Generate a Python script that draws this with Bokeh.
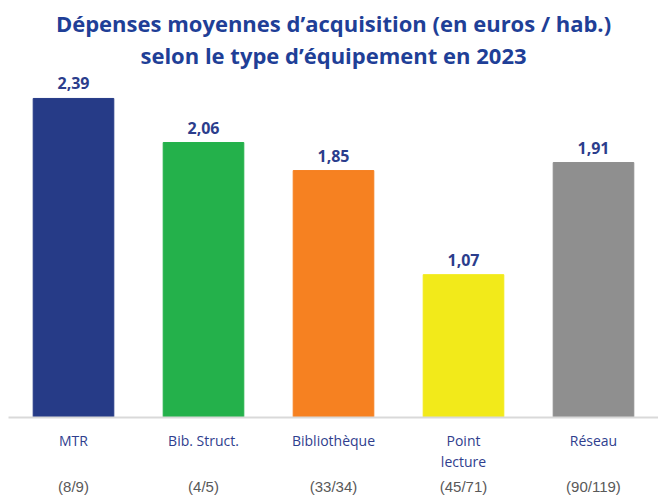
from bokeh.plotting import figure
from bokeh.models import ColumnDataSource, FactorRange, Range1d, CategoricalAxis, Title
from bokeh.core.properties import value
from bokeh.embed import file_html
from bokeh.resources import INLINE

categories = ["MTR", "Bib. Struct.", "Bibliothèque", "Point\nlecture", "Réseau"]
values = [2.39, 2.06, 1.85, 1.07, 1.91]
counts = ["(8/9)", "(4/5)", "(33/34)", "(45/71)", "(90/119)"]
colors = ["#263b87", "#24b14b", "#f68121", "#f2ea1a", "#8f8f8f"]
title_lines = ["Dépenses moyennes d’acquisition (en euros / hab.)",
               "selon le type d’équipement en 2023"]

labels = [f"{v:.2f}".replace(".", ",") for v in values]
src = ColumnDataSource(dict(cat=categories, val=values, lab=labels, col=colors))

p = figure(x_range=FactorRange(*categories, range_padding=0), y_range=Range1d(0, 2.607),
           frame_width=650, frame_height=348, output_backend="svg", toolbar_location=None,
           min_border_left=8, min_border_right=0, min_border_top=0, min_border_bottom=0)
p.outline_line_color = None
p.xgrid.visible = False
p.ygrid.visible = False
p.yaxis.visible = False
p.extra_x_ranges = {"counts": FactorRange(*counts, range_padding=0)}

p.vbar(x="cat", top="val", width=0.62, color="col", source=src)
p.text(x="cat", y="val", text="lab", source=src, text_align="center", text_baseline="bottom",
       y_offset=-9, text_font_size="16px", text_font_style="bold", text_color="#2b3d8c",
       text_font=value("Open Sans"))

ax = p.xaxis[0]
ax.axis_line_color = "#d9d9d9"
ax.axis_line_width = 2
ax.major_tick_line_color = None
ax.minor_tick_line_color = None
ax.major_label_standoff = 7
ax.major_label_text_font = "Open Sans"
ax.major_label_text_font_size = "14px"
ax.major_label_text_color = "#2f3e8e"
ax.major_label_text_line_height = 1.15

ax2 = CategoricalAxis(x_range_name="counts", axis_line_color=None, major_tick_line_color=None,
                      minor_tick_line_color=None, major_label_standoff=-3,
                      major_label_text_font="Liberation Sans",
                      major_label_text_font_size="15px", major_label_text_color="#595959")
p.add_layout(ax2, "below")

for line in reversed(title_lines):
    p.add_layout(Title(text=line, align="center", offset=14, standoff=0,
                       text_font_size="22px", text_font="Open Sans", text_color="#1f3f97",
                       text_font_style="bold"), "above")
p.add_layout(Title(text=" ", standoff=0, text_font_size="3px"), "above")

open("out.html", "w").write(file_html(p, INLINE))
